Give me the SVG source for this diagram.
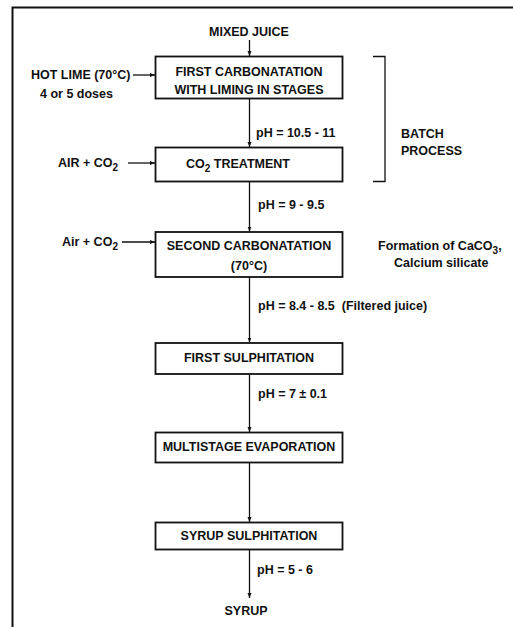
<svg xmlns="http://www.w3.org/2000/svg" width="513" height="627" viewBox="0 0 513 627">
<defs>
<marker id="ah" viewBox="0 0 10 10" refX="10" refY="5" markerWidth="5" markerHeight="5" markerUnits="userSpaceOnUse" orient="auto">
<path d="M0,1 L10,5 L0,9 Z" fill="#111"/>
</marker>
<style>
text{font-family:"Liberation Sans",Arial,sans-serif;font-weight:bold;font-size:12.5px;fill:#111}
.m{text-anchor:middle}
.box{fill:#fff;stroke:#111;stroke-width:1.8}
.c{stroke:#111;stroke-width:1.3;fill:none}
.a{marker-end:url(#ah)}
.sub{font-size:10px}
</style>
</defs>
<rect width="513" height="627" fill="#fff"/>
<g id="frame">
<path d="M12.5,627 V7.5 H513" fill="none" stroke="#111" stroke-width="2"/>
</g>
<g id="connectors">
<line class="c a" x1="249.5" y1="40" x2="249.5" y2="56"/>
<line class="c a" x1="133" y1="75" x2="155" y2="75"/>
<line class="c a" x1="249.5" y1="98" x2="249.5" y2="147"/>
<line class="c a" x1="128" y1="163" x2="155" y2="163"/>
<line class="c a" x1="249.5" y1="182" x2="249.5" y2="231.5"/>
<line class="c a" x1="122" y1="242" x2="155" y2="242"/>
<line class="c a" x1="249.5" y1="277" x2="249.5" y2="342.5"/>
<line class="c a" x1="249.5" y1="374" x2="249.5" y2="432"/>
<line class="c a" x1="249.5" y1="462" x2="249.5" y2="522"/>
<line class="c a" x1="249.5" y1="549" x2="249.5" y2="598"/>
<path class="c" d="M373,56.5 H385 V181.5 H373" stroke-width="1.2"/>
</g>
<g id="mixed-juice"><text class="m" x="249" y="36">MIXED JUICE</text></g>
<g id="hot-lime">
<text x="31" y="79">HOT LIME (70°C)</text>
<text x="40" y="98">4 or 5 doses</text>
</g>
<g id="first-carbonatation">
<rect class="box" x="155.5" y="56.5" width="187" height="42"/>
<text class="m" x="249" y="76">FIRST CARBONATATION</text>
<text class="m" x="249" y="94">WITH LIMING IN STAGES</text>
</g>
<g id="ph1"><text x="256" y="137">pH = 10.5 - 11</text></g>
<g id="batch">
<text x="401" y="138">BATCH</text>
<text x="401" y="155">PROCESS</text>
</g>
<g id="air-co2-1"><text x="58" y="167">AIR + CO<tspan class="sub" dy="4">2</tspan></text></g>
<g id="co2-treatment">
<rect class="box" x="155.5" y="147.5" width="187" height="34"/>
<text class="m" x="238" y="168">CO<tspan class="sub" dy="4">2</tspan><tspan dy="-4"> TREATMENT</tspan></text>
</g>
<g id="ph2"><text x="258" y="209">pH = 9 - 9.5</text></g>
<g id="air-co2-2"><text x="62" y="246">Air + CO<tspan class="sub" dy="4">2</tspan></text></g>
<g id="second-carbonatation">
<rect class="box" x="155.5" y="232" width="187" height="45"/>
<text class="m" x="249" y="250">SECOND CARBONATATION</text>
<text class="m" x="249" y="270">(70°C)</text>
</g>
<g id="formation">
<text x="378" y="250">Formation of CaCO<tspan class="sub" dy="4">3</tspan><tspan dy="-4">,</tspan></text>
<text x="394" y="267">Calcium silicate</text>
</g>
<g id="ph3"><text x="258" y="310">pH = 8.4 - 8.5 &#160;(Filtered juice)</text></g>
<g id="first-sulphitation">
<rect class="box" x="155.5" y="343" width="187" height="31"/>
<text class="m" x="249" y="362">FIRST SULPHITATION</text>
</g>
<g id="ph4"><text x="258" y="398">pH = 7 ± 0.1</text></g>
<g id="multistage-evaporation">
<rect class="box" x="155.5" y="432.5" width="187" height="30"/>
<text class="m" x="249" y="451">MULTISTAGE EVAPORATION</text>
</g>
<g id="syrup-sulphitation">
<rect class="box" x="155.5" y="522.5" width="187" height="27"/>
<text class="m" x="249" y="540">SYRUP SULPHITATION</text>
</g>
<g id="ph5"><text x="257" y="574">pH = 5 - 6</text></g>
<g id="syrup"><text class="m" x="246" y="615">SYRUP</text></g>
</svg>
